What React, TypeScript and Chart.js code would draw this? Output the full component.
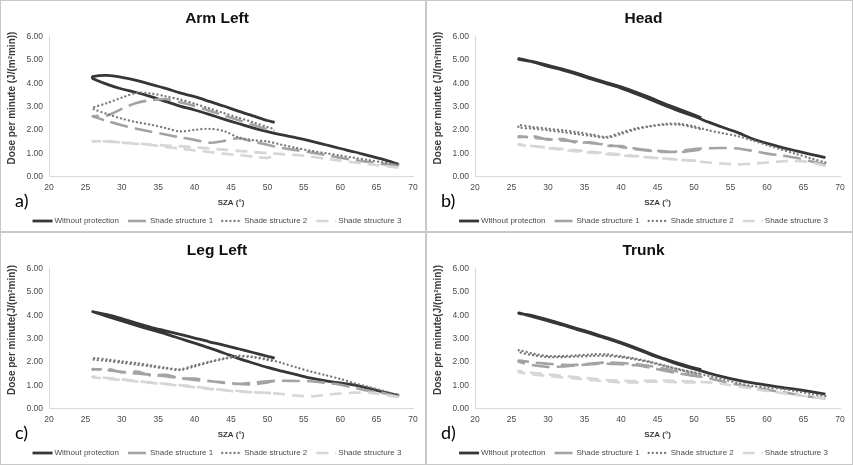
import React, { useEffect, useRef } from "react";
import { Chart, registerables } from "chart.js";

Chart.register(...registerables);
Chart.defaults.font.family = '"Liberation Sans", Arial, sans-serif';

// ---- data ----
// SZA sampling of the morning branch (68° -> 26°) and the afternoon branch (26° -> 51°)
const SZA_AM = [68, 66, 64, 62, 60, 58, 56, 54, 52, 50, 48, 46, 44, 42, 40, 38, 36, 34, 32, 30, 28, 26];
const SZA_PM = [26, 28, 30, 32, 34, 36, 38, 40, 42, 44, 46, 48, 50, 51];

const SERIES_LABELS = ["Without protection", "Shade structure 1", "Shade structure 2", "Shade structure 3"];

const X_MIN = 20;
const X_MAX = 70;
const X_STEP = 5;
const Y_MIN = 0;
const Y_MAX = 6;
const Y_STEP = 1;

// a) Arm Left
const ARM_NONE_AM = [0.53, 0.72, 0.88, 1.05, 1.2, 1.36, 1.52, 1.66, 1.78, 1.92, 2.08, 2.27, 2.46, 2.66, 2.85, 3.02, 3.22, 3.42, 3.6, 3.75, 3.95, 4.2];
const ARM_NONE_PM = [4.28, 4.33, 4.25, 4.12, 3.95, 3.78, 3.58, 3.42, 3.22, 3.02, 2.8, 2.6, 2.4, 2.32];
const ARM_S1_AM = [0.45, 0.53, 0.62, 0.7, 0.8, 0.92, 1.03, 1.13, 1.22, 1.36, 1.5, 1.64, 1.52, 1.45, 1.57, 1.68, 1.8, 1.92, 2.05, 2.2, 2.37, 2.58];
const ARM_S1_PM = [2.58, 2.62, 2.9, 3.15, 3.27, 3.32, 3.18, 3.02, 2.82, 2.62, 2.42, 2.22, 2.02, 1.96];
const ARM_S2_AM = [0.52, 0.6, 0.7, 0.8, 0.9, 1.0, 1.1, 1.22, 1.36, 1.5, 1.56, 1.68, 1.95, 2.04, 2.0, 1.93, 2.08, 2.22, 2.33, 2.48, 2.68, 2.9];
const ARM_S2_PM = [2.95, 3.15, 3.38, 3.58, 3.56, 3.44, 3.3, 3.12, 2.92, 2.72, 2.52, 2.33, 2.12, 2.03];
const ARM_S3_AM = [0.38, 0.45, 0.53, 0.6, 0.68, 0.76, 0.86, 0.92, 0.96, 1.0, 1.05, 1.1, 1.15, 1.2, 1.25, 1.3, 1.33, 1.37, 1.42, 1.45, 1.5, 1.52];
const ARM_S3_PM = [1.5, 1.52, 1.45, 1.4, 1.35, 1.27, 1.2, 1.12, 1.05, 0.98, 0.92, 0.86, 0.8, 0.92];

// b) Head
const HEAD_NONE_AM = [0.81, 0.95, 1.1, 1.25, 1.42, 1.62, 1.88, 2.1, 2.33, 2.58, 2.8, 3.05, 3.3, 3.55, 3.79, 3.98, 4.17, 4.38, 4.56, 4.72, 4.9, 5.05];
const HEAD_NONE_PM = [5.02, 4.92, 4.76, 4.6, 4.42, 4.22, 4.03, 3.84, 3.62, 3.38, 3.12, 2.88, 2.64, 2.52];
const HEAD_S1_AM = [0.52, 0.65, 0.8, 0.9, 0.98, 1.1, 1.2, 1.22, 1.21, 1.18, 1.08, 1.05, 1.1, 1.17, 1.27, 1.36, 1.43, 1.5, 1.55, 1.6, 1.66, 1.72];
const HEAD_S1_PM = [1.68, 1.72, 1.58, 1.6, 1.45, 1.46, 1.32, 1.3, 1.2, 1.12, 1.08, 1.04, 1.12, 1.16];
const HEAD_S2_AM = [0.6, 0.78, 0.97, 1.15, 1.35, 1.55, 1.73, 1.85, 1.98, 2.15, 2.26, 2.25, 2.16, 2.06, 1.88, 1.7, 1.8, 1.9, 1.98, 2.05, 2.12, 2.2];
const HEAD_S2_PM = [2.1, 2.05, 1.98, 1.9, 1.82, 1.74, 1.66, 1.82, 2.02, 2.15, 2.22, 2.22, 2.1, 2.02];
const HEAD_S3_AM = [0.45, 0.6, 0.67, 0.65, 0.6, 0.55, 0.52, 0.55, 0.6, 0.66, 0.72, 0.77, 0.81, 0.86, 0.9, 0.96, 1.02, 1.07, 1.14, 1.22, 1.3, 1.38];
const HEAD_S3_PM = [1.35, 1.3, 1.24, 1.18, 1.12, 1.06, 1.0, 0.94, 0.88, 0.82, 0.76, 0.72, 0.68, 0.66];

// c) Leg Left
const LEG_NONE_AM = [0.57, 0.7, 0.86, 1.0, 1.1, 1.18, 1.3, 1.45, 1.6, 1.76, 1.95, 2.15, 2.38, 2.6, 2.8, 3.0, 3.2, 3.38, 3.56, 3.75, 3.95, 4.15];
const LEG_NONE_PM = [4.15, 4.02, 3.85, 3.66, 3.48, 3.33, 3.18, 3.02, 2.86, 2.72, 2.56, 2.4, 2.24, 2.16];
const LEG_S1_AM = [0.5, 0.65, 0.75, 0.88, 1.02, 1.1, 1.17, 1.18, 1.19, 1.17, 1.1, 1.06, 1.12, 1.17, 1.22, 1.3, 1.38, 1.45, 1.5, 1.57, 1.64, 1.69];
const LEG_S1_PM = [1.66, 1.7, 1.55, 1.58, 1.42, 1.44, 1.3, 1.28, 1.18, 1.1, 1.05, 1.04, 1.12, 1.17];
const LEG_S2_AM = [0.57, 0.75, 0.92, 1.08, 1.27, 1.43, 1.58, 1.76, 1.95, 2.12, 2.22, 2.26, 2.15, 2.0, 1.85, 1.68, 1.75, 1.85, 1.95, 2.02, 2.1, 2.16];
const LEG_S2_PM = [2.1, 2.04, 1.96, 1.88, 1.8, 1.72, 1.65, 1.8, 1.98, 2.12, 2.22, 2.2, 2.08, 2.02];
const LEG_S3_AM = [0.5, 0.58, 0.68, 0.68, 0.64, 0.58, 0.52, 0.55, 0.62, 0.67, 0.7, 0.75, 0.8, 0.86, 0.94, 1.0, 1.06, 1.12, 1.18, 1.25, 1.31, 1.37];
const LEG_S3_PM = [1.34, 1.28, 1.22, 1.16, 1.1, 1.04, 0.98, 0.91, 0.84, 0.78, 0.73, 0.7, 0.67, 0.65];

// d) Trunk
const TRUNK_NONE_AM = [0.62, 0.72, 0.82, 0.9, 1.0, 1.1, 1.22, 1.36, 1.52, 1.7, 1.88, 2.1, 2.32, 2.56, 2.8, 3.0, 3.2, 3.38, 3.58, 3.75, 3.93, 4.1];
const TRUNK_NONE_PM = [4.08, 3.97, 3.8, 3.62, 3.43, 3.24, 3.04, 2.84, 2.6, 2.36, 2.13, 1.92, 1.74, 1.66];
const TRUNK_S1_AM = [0.43, 0.5, 0.6, 0.7, 0.8, 0.9, 1.02, 1.15, 1.3, 1.42, 1.56, 1.7, 1.82, 1.9, 1.95, 1.97, 1.93, 1.87, 1.87, 1.92, 1.97, 2.06];
const TRUNK_S1_PM = [2.0, 1.85, 1.78, 1.8, 1.85, 1.9, 1.92, 1.9, 1.85, 1.75, 1.62, 1.5, 1.4, 1.35];
const TRUNK_S2_AM = [0.53, 0.63, 0.74, 0.84, 0.9, 0.96, 1.1, 1.25, 1.4, 1.52, 1.66, 1.84, 2.0, 2.14, 2.24, 2.32, 2.32, 2.28, 2.25, 2.25, 2.35, 2.5];
const TRUNK_S2_PM = [2.42, 2.28, 2.2, 2.2, 2.22, 2.25, 2.25, 2.2, 2.1, 1.98, 1.82, 1.68, 1.55, 1.48];
const TRUNK_S3_AM = [0.43, 0.5, 0.58, 0.67, 0.75, 0.85, 0.95, 1.05, 1.12, 1.15, 1.18, 1.2, 1.2, 1.18, 1.2, 1.22, 1.28, 1.34, 1.4, 1.46, 1.52, 1.6];
const TRUNK_S3_PM = [1.55, 1.45, 1.4, 1.33, 1.28, 1.22, 1.16, 1.12, 1.12, 1.15, 1.15, 1.12, 1.12, 1.12];

const PANELS = [
  {
    title: "Arm Left", tag: "a)", yTitle: "Dose per minute (J/(m\u00B2min))",
    am: [ARM_NONE_AM, ARM_S1_AM, ARM_S2_AM, ARM_S3_AM],
    pm: [ARM_NONE_PM, ARM_S1_PM, ARM_S2_PM, ARM_S3_PM],
  },
  {
    title: "Head", tag: "b)", yTitle: "Dose per minute (J/(m\u00B2min))",
    am: [HEAD_NONE_AM, HEAD_S1_AM, HEAD_S2_AM, HEAD_S3_AM],
    pm: [HEAD_NONE_PM, HEAD_S1_PM, HEAD_S2_PM, HEAD_S3_PM],
  },
  {
    title: "Leg Left", tag: "c)", yTitle: "Dose per minute(J/(m\u00B2min))",
    am: [LEG_NONE_AM, LEG_S1_AM, LEG_S2_AM, LEG_S3_AM],
    pm: [LEG_NONE_PM, LEG_S1_PM, LEG_S2_PM, LEG_S3_PM],
  },
  {
    title: "Trunk", tag: "d)", yTitle: "Dose per minute(J/(m\u00B2min))",
    am: [TRUNK_NONE_AM, TRUNK_S1_AM, TRUNK_S2_AM, TRUNK_S3_AM],
    pm: [TRUNK_NONE_PM, TRUNK_S1_PM, TRUNK_S2_PM, TRUNK_S3_PM],
  },
];

// ---- styles ----
const SERIES_STYLES = [
  { color: "#363636", width: 2.8, dash: [] as number[], cap: "butt" },
  { color: "#a3a3a3", width: 2.6, dash: [18, 7], cap: "butt" },
  { color: "#7a7a7a", width: 2.3, dash: [0.1, 4], cap: "round" },
  { color: "#d6d6d6", width: 2.6, dash: [12, 7], cap: "butt" },
];

const TEXT_GREY = "#4a4a4a";
const AXIS_GREY = "#d9d9d9";

const overlayPlugin = {
  id: "overlay",
  afterDraw(chart: any, _args: any, opts: any) {
    const ctx = chart.ctx;
    // y-axis title
    ctx.save();
    ctx.font = 'bold 10px "Liberation Sans", Arial, sans-serif';
    ctx.fillStyle = "#3a3a3a";
    ctx.translate(11, 97);
    ctx.rotate(-Math.PI / 2);
    ctx.textAlign = "center";
    ctx.textBaseline = "middle";
    ctx.fillText(opts.yTitle, 0, 0);
    ctx.restore();
    // panel tag
    ctx.save();
    ctx.font = '18px Lato, "Open Sans", sans-serif';
    ctx.fillStyle = "#000000";
    ctx.textAlign = "left";
    ctx.textBaseline = "middle";
    ctx.fillText(opts.tag, 14, 200);
    ctx.restore();
    // legend line samples
    const legend = chart.legend;
    if (legend && legend.legendHitBoxes) {
      legend.legendHitBoxes.forEach((hb: any, i: number) => {
        const ds = chart.data.datasets[i];
        if (!ds) return;
        const y = hb.top + hb.height / 2;
        ctx.save();
        ctx.strokeStyle = ds.borderColor;
        ctx.lineWidth = ds.borderWidth;
        ctx.lineCap = ds.borderCapStyle;
        ctx.setLineDash(ds.borderDash || []);
        ctx.beginPath();
        ctx.moveTo(hb.left, y);
        ctx.lineTo(hb.left + 20, y);
        ctx.stroke();
        ctx.restore();
      });
    }
  },
};

function Panel({ cfg, width, height }: { cfg: any; width: number; height: number }) {
  const ref = useRef<HTMLCanvasElement | null>(null);
  useEffect(() => {
    if (!ref.current) return;
    const datasets = SERIES_LABELS.map((label, i) => {
      const st = SERIES_STYLES[i];
      const pts = SZA_AM.map((x, k) => ({ x, y: cfg.am[i][k] })).concat(
        SZA_PM.map((x, k) => ({ x, y: cfg.pm[i][k] }))
      );
      return {
        label,
        data: pts,
        showLine: true,
        borderColor: st.color,
        backgroundColor: st.color,
        borderWidth: st.width,
        borderDash: st.dash,
        borderCapStyle: st.cap,
        borderJoinStyle: "round",
        pointRadius: 0,
        tension: 0.3,
        fill: false,
        order: 3 - i,
      };
    });
    const chart = new Chart(ref.current, {
      type: "scatter",
      data: { datasets } as any,
      options: {
        responsive: false,
        animation: false,
        events: [],
        layout: { padding: { left: 20, right: 12, top: 0, bottom: -4 } },
        plugins: {
          title: {
            display: true,
            text: cfg.title,
            color: "#111111",
            font: { size: 15.5, weight: "bold" },
            padding: { top: 8, bottom: 8.9 },
          },
          legend: {
            display: true,
            position: "bottom",
            labels: {
              boxWidth: 18,
              boxHeight: 0,
              padding: 9,
              color: TEXT_GREY,
              font: { size: 8 },
              generateLabels: (ch: any) =>
                ch.data.datasets.map((ds: any, i: number) => ({
                  text: ds.label,
                  fillStyle: "rgba(0,0,0,0)",
                  strokeStyle: "rgba(0,0,0,0)",
                  lineWidth: 0,
                  hidden: false,
                  datasetIndex: i,
                  fontColor: TEXT_GREY,
                })),
            },
          },
          tooltip: { enabled: false },
          overlay: { yTitle: cfg.yTitle, tag: cfg.tag },
        } as any,
        scales: {
          x: {
            type: "linear",
            min: X_MIN,
            max: X_MAX,
            ticks: { stepSize: X_STEP, padding: 6, color: TEXT_GREY, font: { size: 8.5 }, maxRotation: 0, autoSkip: false },
            grid: { display: false, drawTicks: false },
            border: { display: true, color: AXIS_GREY, width: 1 },
            title: {
              display: true,
              text: "SZA (\u00B0)",
              color: "#3a3a3a",
              font: { size: 8, weight: "bold" },
              padding: { top: 0, bottom: 0 },
            },
            afterFit: (s: any) => {
              s.height = 31.5;
            },
          },
          y: {
            type: "linear",
            min: Y_MIN,
            max: Y_MAX,
            ticks: {
              stepSize: Y_STEP,
              padding: 6,
              color: TEXT_GREY,
              font: { size: 8.5 },
              callback: (v: any) => Number(v).toFixed(2),
            },
            grid: { display: false, drawTicks: false },
            border: { display: true, color: AXIS_GREY, width: 1 },
            afterFit: (s: any) => {
              s.width = 28;
            },
          },
        },
      } as any,
      plugins: [overlayPlugin],
    });
    return () => chart.destroy();
  }, [cfg]);
  return (
    <canvas
      ref={ref}
      width={width}
      height={height}
      style={{ display: "block", width: width + "px", height: height + "px" }}
    />
  );
}

export default function App() {
  const cols = [426, 427];
  const rows = [232, 233];
  return (
    <div
      style={{
        position: "absolute",
        left: 0,
        top: 0,
        width: 853,
        height: 465,
        background: "#ffffff",
        display: "grid",
        gridTemplateColumns: `${cols[0]}px ${cols[1]}px`,
        gridTemplateRows: `${rows[0]}px ${rows[1]}px`,
      }}
    >
      {PANELS.map((cfg, i) => {
        const w = cols[i % 2];
        const h = rows[Math.floor(i / 2)];
        return (
          <div
            key={cfg.title}
            style={{
              width: w,
              height: h,
              boxSizing: "border-box",
              border: "1px solid #c8c8c8",
              overflow: "hidden",
              background: "#ffffff",
            }}
          >
            <Panel cfg={cfg} width={w - 2} height={230} />
          </div>
        );
      })}
    </div>
  );
}
